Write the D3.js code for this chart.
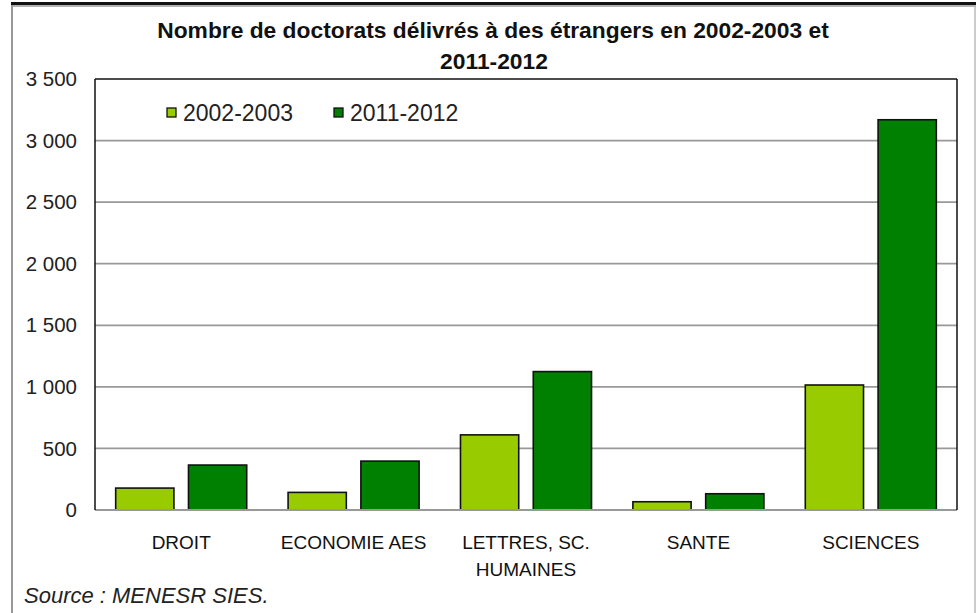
<!DOCTYPE html>
<html>
<head>
<meta charset="utf-8">
<script src="https://cdn.jsdelivr.net/npm/d3@7"></script>
<style>
  body{margin:0;background:#fff;}
  svg{display:block;font-family:"Liberation Sans",Arial,sans-serif;}
</style>
</head>
<body>
<div id="chart"></div>
<script>
// data
const categories=["DROIT","ECONOMIE AES","LETTRES, SC. HUMAINES","SANTE","SCIENCES"];
const catLines=[["DROIT"],["ECONOMIE AES"],["LETTRES, SC.","HUMAINES"],["SANTE"],["SCIENCES"]];
const series=["2002-2003","2011-2012"];
const v2002=[178,143,610,67,1015];
const v2011=[365,397,1124,132,3169];
const yTicks=[0,500,1000,1500,2000,2500,3000,3500];
const colors=["#99cc00","#008000"];

const W=976,H=613;
const MG={t:79,r:19,b:103,l:95};
const iW=W-MG.l-MG.r, iH=H-MG.t-MG.b;

const svg=d3.select("#chart").append("svg").attr("width",W).attr("height",H);

// outer frame
svg.append("line").attr("x1",11).attr("x2",W).attr("y1",3.5).attr("y2",3.5)
  .attr("stroke","#111").attr("stroke-width",3);
svg.append("line").attr("x1",11).attr("x2",W).attr("y1",6).attr("y2",6)
  .attr("stroke","#999").attr("stroke-width",1.5);
svg.append("line").attr("x1",12).attr("x2",12).attr("y1",5).attr("y2",H)
  .attr("stroke","#999").attr("stroke-width",2);
svg.append("line").attr("x1",975).attr("x2",975).attr("y1",5).attr("y2",H)
  .attr("stroke","#bbb").attr("stroke-width",1.5);

// title
const title=svg.append("text").attr("text-anchor","middle").attr("font-weight","bold")
  .attr("font-size",22.8).attr("fill","#111");
title.append("tspan").attr("x",493).attr("y",38).text("Nombre de doctorats délivrés à des étrangers en 2002-2003 et");
title.append("tspan").attr("x",494).attr("y",69).text("2011-2012");

const g=svg.append("g").attr("transform",`translate(${MG.l},${MG.t})`);

const x0=d3.scaleBand().domain(categories).range([0,iW]);
const x1=d3.scaleBand().domain(series).range([x0.bandwidth()*0.12,x0.bandwidth()*0.88]).paddingInner(0.2);
const y=d3.scaleLinear().domain([0,3500]).range([iH,0]);

const fr=d3.formatLocale({decimal:",",thousands:" ",grouping:[3],currency:["","€"]});
const fmt=fr.format(",d");

// grid
g.append("g").selectAll("line").data(yTicks.filter(d=>d>0&&d<3500)).join("line")
  .attr("x1",0).attr("x2",iW).attr("y1",d=>y(d)).attr("y2",d=>y(d))
  .attr("stroke","#999").attr("stroke-width",1.8);

// y axis labels
g.append("g").selectAll("text").data(yTicks).join("text")
  .attr("x",-18).attr("y",d=>y(d)).attr("dy","0.35em").attr("text-anchor","end")
  .attr("font-size",20.5).attr("fill","#222").text(d=>fmt(d));

// bars
const rows=categories.map((c,i)=>({cat:c,vals:[v2002[i],v2011[i]]}));
const grp=g.selectAll(".grp").data(rows).join("g").attr("class","grp")
  .attr("transform",d=>`translate(${x0(d.cat)},0)`);
grp.selectAll("rect").data(d=>d.vals.map((v,j)=>({s:series[j],v,j}))).join("rect")
  .attr("x",d=>x1(d.s)).attr("width",x1.bandwidth())
  .attr("y",d=>y(d.v)).attr("height",d=>iH-y(d.v))
  .attr("fill",d=>colors[d.j]).attr("stroke","#111").attr("stroke-width",1.6);

// plot border
g.append("line").attr("x1",0).attr("x2",iW).attr("y1",iH).attr("y2",iH).attr("stroke","#999").attr("stroke-width",2);
g.append("line").attr("x1",0).attr("x2",iW).attr("y1",0).attr("y2",0).attr("stroke","#111").attr("stroke-width",1.5);
g.append("line").attr("x1",0).attr("x2",0).attr("y1",0).attr("y2",iH).attr("stroke","#111").attr("stroke-width",1.5);
g.append("line").attr("x1",iW).attr("x2",iW).attr("y1",0).attr("y2",iH).attr("stroke","#111").attr("stroke-width",1.5);

// category labels
const cl=g.append("g").selectAll("text").data(categories).join("text")
  .attr("text-anchor","middle").attr("font-size",19).attr("fill","#111");
cl.each(function(c,i){
  const t=d3.select(this);
  catLines[i].forEach((ln,k)=>t.append("tspan")
    .attr("x",x0(c)+x0.bandwidth()/2).attr("y",iH+39+k*27).text(ln));
});

// legend
const lg=svg.append("g").attr("transform","translate(167,108)");
const lx=[0,167];
series.forEach((s,i)=>{
  lg.append("rect").attr("x",lx[i]).attr("y",0).attr("width",9).attr("height",9)
    .attr("fill",colors[i]).attr("stroke","#111").attr("stroke-width",1.3);
  lg.append("text").attr("x",lx[i]+16).attr("y",13).attr("font-size",23).attr("fill","#222").text(s);
});

// source
svg.append("text").attr("x",24).attr("y",603).attr("font-style","italic")
  .attr("font-size",22).attr("fill","#222").text("Source : MENESR SIES.");
</script>
</body>
</html>
